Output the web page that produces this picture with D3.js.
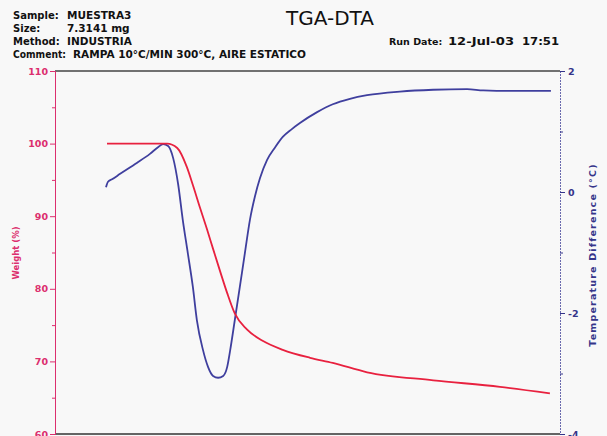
<!DOCTYPE html>
<html>
<head>
<meta charset="utf-8">
<script src="https://cdn.jsdelivr.net/npm/d3@7"></script>
<style>
  html, body { margin: 0; padding: 0; background: #f8f8f8; }
  svg { display: block; }
  text { font-family: "DejaVu Sans", sans-serif; }
</style>
</head>
<body>
<svg id="chart" width="607" height="436"></svg>
<script>
// Run progress (% of the run) for each sampled point of the curves
const weightX = [10.3, 16.0, 22.2, 24.2, 26.1, 27.3, 28.7, 30.1, 31.3, 32.7, 34.1, 35.6, 38.0, 41.2, 45.1, 50.5, 55.0, 61.8, 74.9, 88.1, 98.0];
// Sample weight (%)
const weightY = [100.0, 100.0, 100.0, 99.4, 96.8, 94.3, 91.2, 88.2, 85.5, 82.4, 79.4, 76.6, 74.4, 72.8, 71.6, 70.5, 69.8, 68.5, 67.4, 66.5, 65.6];

const dtaX = [10.1, 10.5, 11.3, 12.9, 16.2, 18.8, 20.4, 21.4, 22.4, 23.4, 24.4, 25.3, 26.3, 27.3, 28.1, 29.3, 30.3, 31.3, 32.3, 33.3, 34.1, 34.7, 35.6, 36.6, 37.6, 38.6, 39.6, 40.6, 42.0, 43.6, 45.1, 46.9, 48.5, 51.9, 55.0, 58.4, 61.8, 68.3, 74.9, 81.6, 84.8, 91.5, 98.2];
// Temperature difference (°C)
const dtaY = [0.08, 0.17, 0.21, 0.30, 0.48, 0.63, 0.74, 0.79, 0.76, 0.56, 0.12, -0.46, -1.01, -1.57, -2.12, -2.61, -2.89, -3.04, -3.07, -3.04, -2.89, -2.61, -2.12, -1.57, -1.01, -0.46, -0.07, 0.23, 0.53, 0.74, 0.91, 1.04, 1.14, 1.32, 1.45, 1.54, 1.60, 1.66, 1.69, 1.70, 1.68, 1.67, 1.67];

const weightMajor = [60, 70, 80, 90, 100, 110];
const weightMinor = [65, 75, 85, 95, 105];
const dtaMajor = [-4, -2, 0, 2];
const dtaMinor = [-3, -1, 1];

const headerLabels = ["Sample:", "Size:", "Method:", "Comment:"];
const headerValues = ["MUESTRA3", "7.3141 mg", "INDUSTRIA", "RAMPA 10°C/MIN 300°C, AIRE ESTATICO"];
const runDateLabel = "Run Date:";
const runDate = ["12-Jul-03", "17:51"];

const svg = d3.select("#chart");
const plotLeft = 55, plotRight = 560, plotTop = 71, plotBottom = 434;

const x = d3.scaleLinear().domain([0, 100]).range([plotLeft, plotRight]);
const yW = d3.scaleLinear().domain([60, 110]).range([plotBottom, plotTop]);
const yT = d3.scaleLinear().domain([-4, 2]).range([plotBottom, plotTop]);

const weightColor = "#e8213f";
const weightAxisColor = "#dc2f6e";
const dtaColor = "#3f3f9e";
const dtaAxisColor = "#35358a";

// Header block
const header = svg.append("g").attr("font-weight", "bold").attr("font-size", 10).attr("fill", "#111");
headerLabels.forEach((t, i) => {
  const label = header.append("text").attr("x", 13).attr("y", 19 + i * 13).text(t);
  if (i === 3) label.attr("textLength", 53).attr("lengthAdjust", "spacingAndGlyphs");
  header.append("text").attr("x", i === 3 ? 73 : 67).attr("y", 19 + i * 13)
    .attr("font-size", 10.5).text(headerValues[i]);
});
header.append("text").attr("x", 389).attr("y", 45).attr("font-size", 9.5).text(runDateLabel);
header.append("text").attr("x", 448).attr("y", 45).attr("font-size", 10.5)
  .attr("textLength", 66).attr("lengthAdjust", "spacingAndGlyphs").text(runDate[0]);
header.append("text").attr("x", 522).attr("y", 45).attr("font-size", 10.5)
  .attr("textLength", 37).attr("lengthAdjust", "spacingAndGlyphs").text(runDate[1]);

svg.append("text").attr("x", 330).attr("y", 25).attr("text-anchor", "middle")
  .attr("font-family", "Liberation Sans, Arial, sans-serif")
  .attr("font-size", 20).attr("fill", "#111").text("TGA-DTA");

// Frame lines (top and bottom)
svg.append("line").attr("x1", plotLeft).attr("x2", plotRight).attr("y1", plotTop).attr("y2", plotTop)
  .attr("stroke", "#444").attr("stroke-width", 1.4);
svg.append("line").attr("x1", plotLeft).attr("x2", plotRight).attr("y1", plotBottom).attr("y2", plotBottom)
  .attr("stroke", "#333").attr("stroke-width", 1.6);

// Left axis: weight
const gL = svg.append("g").attr("transform", `translate(${plotLeft},0)`)
  .call(d3.axisLeft(yW).tickValues(weightMajor).tickSize(5).tickPadding(2).tickFormat(d => String(d)));
gL.select(".domain").attr("stroke", weightAxisColor).attr("stroke-width", 1);
gL.selectAll(".tick line").attr("stroke", weightAxisColor);
gL.selectAll(".tick text").attr("fill", weightAxisColor).attr("font-weight", "bold")
  .attr("font-size", 9.5).attr("font-family", "DejaVu Sans, sans-serif");
const gLm = svg.append("g").attr("transform", `translate(${plotLeft},0)`)
  .call(d3.axisLeft(yW).tickValues(weightMinor).tickSize(3).tickFormat(""));
gLm.select(".domain").remove();
gLm.selectAll(".tick line").attr("stroke", weightAxisColor);

svg.append("text").attr("transform", "translate(19,253) rotate(-90)")
  .attr("text-anchor", "middle").attr("font-size", 8.5).attr("font-weight", "bold")
  .attr("fill", weightAxisColor).text("Weight (%)");

// Right axis: temperature difference
const gR = svg.append("g").attr("transform", `translate(${plotRight},0)`)
  .call(d3.axisRight(yT).tickValues(dtaMajor).tickSize(5).tickPadding(3).tickFormat(d => String(d)));
gR.select(".domain").attr("stroke", "#6a6aae").attr("stroke-width", 1).attr("stroke-dasharray", "2,1");
gR.selectAll(".tick line").attr("stroke", dtaAxisColor);
gR.selectAll(".tick text").attr("fill", dtaAxisColor).attr("font-weight", "bold")
  .attr("font-size", 9.5).attr("font-family", "DejaVu Sans, sans-serif");
const gRm = svg.append("g").attr("transform", `translate(${plotRight},0)`)
  .call(d3.axisRight(yT).tickValues(dtaMinor).tickSize(3).tickFormat(""));
gRm.select(".domain").remove();
gRm.selectAll(".tick line").attr("stroke", dtaAxisColor);

svg.append("text").attr("transform", "translate(596,255) rotate(-90)")
  .attr("text-anchor", "middle").attr("font-size", 9.5).attr("font-weight", "bold")
  .attr("letter-spacing", 1.2)
  .attr("fill", dtaAxisColor).text("Temperature Difference (°C)");

// Curves
const weightLine = d3.line().x((d, i) => x(weightX[i])).y(d => yW(d)).curve(d3.curveMonotoneX);
const dtaLine = d3.line().x((d, i) => x(dtaX[i])).y(d => yT(d)).curve(d3.curveMonotoneX);

svg.append("path").attr("d", dtaLine(dtaY)).attr("fill", "none")
  .attr("stroke", dtaColor).attr("stroke-width", 1.8);
svg.append("path").attr("d", weightLine(weightY)).attr("fill", "none")
  .attr("stroke", weightColor).attr("stroke-width", 1.8);
</script>
</body>
</html>
